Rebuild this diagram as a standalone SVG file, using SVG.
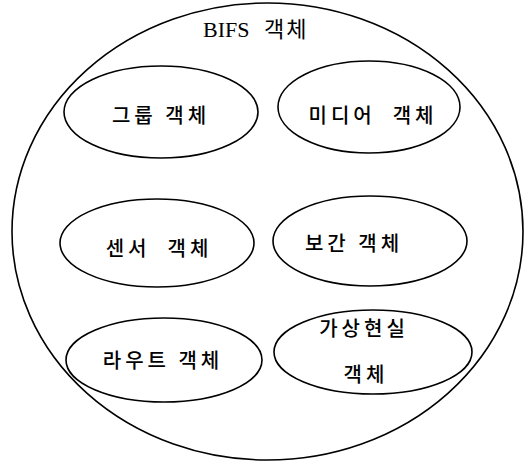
<svg xmlns="http://www.w3.org/2000/svg" width="527" height="463" viewBox="0 0 527 463">
<style>
.shape{fill:none;stroke:#000;stroke-width:1.6}
.t{font-family:"Noto Sans CJK KR","Liberation Sans",sans-serif;font-size:20px;font-weight:500;fill:#000;text-anchor:middle;letter-spacing:4px}
.b{font-family:"Liberation Serif","Noto Sans CJK KR",serif;font-size:22px;fill:#000}
</style>
<rect width="527" height="463" fill="#fff"/>
<g id="bifs">
<ellipse class="shape" cx="267.5" cy="231.5" rx="255.5" ry="228.5"/>
<text class="b" x="203" y="37">BIFS<tspan x="264" letter-spacing="2">객체</tspan></text>
</g>
<g id="group">
<ellipse class="shape" cx="161" cy="112" rx="97" ry="46"/>
<text class="t" x="161" y="123">그룹 객체</text>
</g>
<g id="media">
<ellipse class="shape" cx="369" cy="107" rx="91" ry="46"/>
<text class="t" x="373" y="123" xml:space="preserve">미디어  객체</text>
</g>
<g id="sensor">
<ellipse class="shape" cx="157" cy="243" rx="97" ry="44"/>
<text class="t" x="159" y="256" xml:space="preserve">센서  객체</text>
</g>
<g id="interp">
<ellipse class="shape" cx="370" cy="241" rx="97" ry="45"/>
<text class="t" x="354" y="251">보간 객체</text>
</g>
<g id="route">
<ellipse class="shape" cx="164" cy="360" rx="98" ry="42"/>
<text class="t" x="163" y="368">라우트 객체</text>
</g>
<g id="vr">
<ellipse class="shape" cx="373" cy="352" rx="99" ry="42"/>
<text class="t" x="364" y="336">가상현실</text>
<text class="t" x="366" y="382">객체</text>
</g>
<g id="connectors"/>
</svg>
